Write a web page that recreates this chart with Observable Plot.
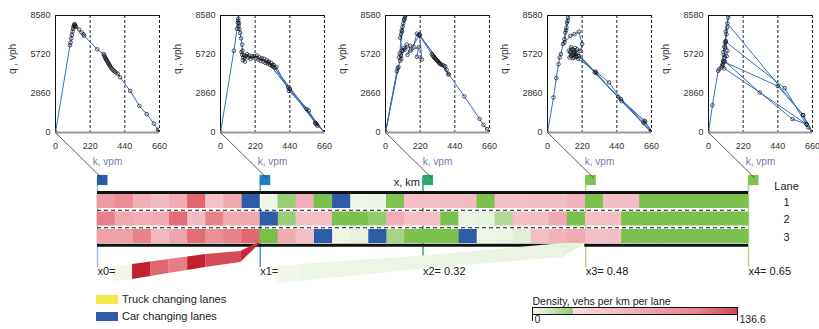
<!DOCTYPE html>
<html><head><meta charset="utf-8">
<script src="https://cdn.jsdelivr.net/npm/d3@7"></script>
<script src="https://cdn.jsdelivr.net/npm/@observablehq/plot@0.6"></script>
<style>
body{margin:0;background:#fff;font-family:"Liberation Sans",Arial,sans-serif;}
#root{position:relative;width:819px;height:329px;overflow:hidden;background:#fff;}
.sw{position:absolute;width:22px;height:9px;}
.lt{position:absolute;font-size:11px;color:#222;white-space:nowrap;line-height:12px;}
</style></head><body><div id="root"></div>
<script>
// ---------- DATA ----------
// Fundamental-diagram samples (k vpm, q vph) at each detector x0..x4
const fd0 = [[0,0],[92,6400],[96,6600],[100,6900],[104,7150],[108,7400],[112,7600],[115,7750],[118,7850],[120,7950],[123,7900],[126,7820],[130,7750],[150,7550],[165,7350],[178,7200],[182,7100],[265,6100],[305,5750],[309,5650],[313,5550],[317,5450],[321,5380],[325,5300],[329,5220],[333,5130],[337,5050],[341,4980],[345,4900],[350,4800],[356,4700],[362,4620],[368,4550],[375,4480],[385,4400],[395,4300],[410,4050],[474,3050],[532,1950],[579,1350],[624,650],[650,200],[655,120],[658,60],[660,0]];
const fd1 = [[0,0],[85,6000],[105,7600],[110,8050],[113,8350],[116,8700],[112,8200],[118,8000],[114,7800],[120,7600],[125,7300],[130,6900],[137,6450],[140,6000],[133,5900],[138,5700],[145,5500],[150,5650],[142,5300],[155,5200],[160,5600],[168,5750],[175,5500],[182,5650],[190,5400],[198,5600],[205,5500],[215,5600],[225,5450],[232,5650],[240,5350],[248,5500],[255,5250],[262,5450],[270,5200],[278,5400],[285,5100],[292,5300],[300,5050],[308,5200],[315,4950],[322,5100],[330,4850],[338,4950],[345,4750],[355,4800],[434,3050],[546,1720],[600,700],[615,500],[660,0],[330,4950],[440,3200],[560,1600],[610,600],[660,0],[300,5150],[430,3300],[605,650],[660,0]];
const fd2 = [[0,0],[72,4500],[82,4800],[0,0],[78,4700],[93,5250],[85,5500],[97,5650],[104,6000],[93,6950],[98,7200],[103,7500],[108,7750],[113,8000],[118,8250],[123,8450],[128,8600],[132,8800],[120,8300],[105,7400],[90,5800],[100,5400],[118,6200],[110,6000],[135,6450],[125,6100],[157,6350],[140,5700],[178,6300],[199,7250],[216,7200],[160,6000],[210,6250],[199,5550],[231,5350],[216,7100],[294,5750],[300,5650],[305,5550],[310,5500],[315,5450],[320,5380],[325,5300],[330,5250],[335,5200],[340,5100],[345,5050],[350,5000],[360,4950],[370,4900],[379,4850],[388,4600],[400,4250],[216,7150],[400,4300],[500,2650],[597,1000],[622,560],[645,250],[660,0]];
const fd3 = [[0,0],[38,2570],[56,3990],[70,5010],[77,5500],[85,5750],[98,6480],[107,6850],[113,7330],[120,7700],[124,8050],[130,8430],[137,8700],[128,8200],[118,7500],[108,6600],[145,7090],[171,7210],[199,7390],[220,6480],[209,5990],[188,6100],[180,5600],[175,6200],[170,5500],[165,6050],[160,5450],[155,6100],[150,5600],[145,5900],[140,5500],[135,6000],[150,6250],[160,5700],[170,5850],[180,5750],[185,5550],[195,5400],[305,4470],[391,3670],[466,2450],[615,860],[660,120],[660,0],[200,5600],[300,4400],[450,2600],[610,700],[660,0],[190,5800],[310,4350],[470,2300],[620,800],[655,100]];
const fd4 = [[0,0],[25,2000],[61,4520],[68,4640],[82,4760],[90,5000],[93,5250],[85,4900],[97,5700],[100,5500],[104,6230],[95,5900],[110,6720],[100,6300],[114,7210],[105,6600],[118,7700],[110,7400],[125,8430],[129,8650],[120,8000],[601,1280],[622,600],[660,0],[632,370],[484,3250],[110,6650],[120,6000],[115,5600],[105,5200],[326,2930],[533,980],[622,610],[100,4700],[95,5200],[440,3400],[601,1270],[660,30]];
const fdPanels = [fd0, fd1, fd2, fd3, fd4];
const kTicks = [0, 220, 440, 660];
const qTicks = [0, 2860, 5720, 8580];
const connector = [[0,0],[290,-3300]];

// Lane density per cell (vehs/km/lane), 36 cells over 0.65 km; null = car changing lanes
const lane1 = [70,80,55,45,58,110,40,60,null,1,20,55,26,null,1,2,25,42,42,43,45,26,42,42,43,44,50,26,43,43,26,26,26,26,26,26];
const lane2 = [90,60,55,58,105,45,88,58,60,null,20,42,42,26,26,21,55,42,42,26,2,3,14,42,44,60,26,42,43,26,26,26,26,26,26,26];
const lane3 = [65,65,88,48,63,105,78,88,110,27,58,42,null,1.5,3,null,17,26,26,26,null,1.5,2,4,42,52,58,42,43,26,26,26,26,26,26,26];
const carChange = [[1,8],[1,13],[2,9],[3,12],[3,15],[3,20]];
const roadLength = 0.65;
const nCells = 36;
const laneNames = ["1","2","3"];

// Detector flags
const flagKm = [0, 0.1625, 0.325, 0.4875, 0.65];
const flagLabels = ["x0=", "x1=", "x2= 0.32", "x3= 0.48", "x4= 0.65"];
const flagColors = ["#2f5ca8", "#1f7fbf", "#2fa86e", "#7cc24f", "#7cc24f"];
const flagLineColors = ["#a3bce0", "#4f95cf", "#2fa86e", "#a8d790", "#a8d790"];

// Callout ribbons (km, top/bottom in lane units) and their cell densities
const redRibbon = [[0.016,4.71,5.57],[0.035,4.6,5.46],[0.053,4.46,5.29],[0.071,4.31,5.11],[0.090,4.17,4.94],[0.108,4.03,4.77],[0.143,3.86,4.49],[0.1615,3.34,3.46]];
const redRibbonDensity = [0.5,136,110,92,136,120,132];
const greenRibbon = [[0.1795,4.71,5.69],[0.2024,4.6,5.57],[0.332,4.09,4.83],[0.4646,3.4,4.2],[0.4865,3.4,3.46]];
const greenRibbonDensity = [0.6,1.5,2,3];

const densityMax = 136.6;
const densityTicks = [0, 136.6];

// ---------- DRAW ----------
const root = document.getElementById("root");
const font = '"Liberation Sans", Arial, sans-serif';
const colorScale = {type: "linear", domain: [0, 27, 27.01, 110, densityMax], range: ["#f4f8ee", "#76bf48", "#f8d3da", "#e26670", "#c01f2e"]};
function place(el, left, top) {
  el.style.position = "absolute"; el.style.left = left + "px"; el.style.top = top + "px";
  root.appendChild(el);
}

// Strip plot (drawn first, underneath)
const cw = roadLength / nCells;
const cells = [];
[lane1, lane2, lane3].forEach((arr, li) => arr.forEach((v, i) => { if (v !== null) cells.push({lane: li + 1, i, v}); }));
const cars = carChange.map(([lane, i]) => ({lane, i}));
function ribbonData(pts, dens) {
  const out = [];
  dens.forEach((d, i) => {
    out.push({z: i, x: pts[i][0], t: pts[i][1], b: pts[i][2], d});
    out.push({z: i, x: pts[i+1][0], t: pts[i+1][1], b: pts[i+1][2], d});
  });
  return out;
}
const flags = flagKm.map((x, i) => ({x, label: flagLabels[i], c: flagColors[i], lc: flagLineColors[i]}));
const sqW = 0.0105;

const strip = Plot.plot({
  width: 819, height: 169,
  marginLeft: 97, marginRight: 71, marginTop: 0, marginBottom: 0,
  x: {domain: [0, roadLength], axis: null},
  y: {domain: [-1.343, 8.314], range: [0, 169], axis: null},
  color: colorScale,
  style: {background: "transparent", overflow: "visible", fontFamily: font, fontSize: "11px", color: "#222"},
  marks: [
    Plot.ruleX(flags, {x: "x", y1: -0.37, y2: 4.77, stroke: "lc", strokeWidth: 1.5}),
    Plot.rect(flags, {x1: "x", x2: d => d.x + sqW, y1: -0.49, y2: 0.09, fill: "c"}),
    Plot.rect(cells, {x1: d => d.i * cw, x2: d => (d.i + 1) * cw, y1: d => d.lane - 0.4, y2: d => d.lane + 0.4, fill: "v", insetLeft: -0.3, insetRight: -0.3}),
    Plot.rect(cars, {x1: d => d.i * cw, x2: d => (d.i + 1) * cw, y1: d => d.lane - 0.4, y2: d => d.lane + 0.4, fill: "#2f5ca8"}),
    Plot.ruleY([1.5, 2.5], {x1: 0, x2: roadLength, stroke: "#111", strokeDasharray: "4,3", strokeWidth: 1}),
    Plot.ruleY([0.49], {x1: 0, x2: roadLength, stroke: "#111", strokeWidth: 3}),
    Plot.ruleY([{y: 3.5, a: 0, b: 0.4646}, {y: 3.5, a: 0.4865, b: roadLength}], {y: "y", x1: "a", x2: "b", stroke: "#111", strokeWidth: 3}),
    Plot.areaY(ribbonData(greenRibbon, greenRibbonDensity), {x: "x", y1: "t", y2: "b", z: "z", fill: "d"}),
    Plot.areaY(ribbonData(redRibbon, redRibbonDensity), {x: "x", y1: "t", y2: "b", z: "z", fill: "d"}),
    Plot.text(flags, {x: "x", y: 5.0, text: "label", textAnchor: "start", fill: "#222"}),
    Plot.text(["x, km"], {x: flagKm[2], y: -0.09, dx: -3, textAnchor: "end", fill: "#222"}),
    Plot.text(["Lane", ...laneNames], {x: 0.688, y: (d, i) => i === 0 ? 0.14 : i + 0.03, fill: "#222"})
  ]
});
place(strip, 0, 160);

// Scatter panels
const plotLefts = [55, 220, 385, 547, 708];
fdPanels.forEach((data, p) => {
  const pts = data.map(([k, q]) => ({k, q}));
  const pl = Plot.plot({
    width: 165, height: 180,
    marginLeft: 55, marginRight: 6, marginTop: 15, marginBottom: 48,
    x: {domain: [0, 660], ticks: kTicks, tickSize: 0, tickPadding: 10, label: null, tickFormat: d => String(d)},
    y: {domain: [0, 8580], ticks: qTicks, tickSize: 0, tickPadding: 5, label: null, tickFormat: d => String(d)},
    style: {background: "transparent", overflow: "visible", fontFamily: font, fontSize: "9px", color: "#333"},
    marks: [
      Plot.ruleX([220, 440, 660], {stroke: "#222", strokeDasharray: "3,2", strokeWidth: 1}),
      Plot.ruleY([8580], {stroke: "#111", strokeWidth: 1}),
      Plot.ruleX([0], {stroke: "#111", strokeWidth: 1}),
      Plot.line(pts, {x: "k", y: "q", stroke: "#3f6db8", strokeWidth: 1, clip: true}),
      Plot.dot(pts, {x: "k", y: "q", r: 1.8, stroke: "#111", strokeWidth: 0.7, fill: "none", clip: true}),
      Plot.ruleY([0], {stroke: "#999", strokeWidth: 2}),
      Plot.line(connector, {stroke: "#333", strokeWidth: 0.8}),
      Plot.text(["q , vph"], {frameAnchor: "left", dx: -43, rotate: -90, fontSize: 10, fill: "#333"}),
      Plot.text(["k, vpm"], {frameAnchor: "bottom", dy: 32, fontSize: 10, fill: "#7c78ae"})
    ]
  });
  place(pl, plotLefts[p] - 55, 0);
});

// Lane-change legend
const sw1 = document.createElement("div"); sw1.className = "sw"; sw1.style.background = "#f5ea4a"; sw1.style.left = "96px"; sw1.style.top = "295px"; root.appendChild(sw1);
const sw2 = document.createElement("div"); sw2.className = "sw"; sw2.style.background = "#2f5ca8"; sw2.style.left = "96px"; sw2.style.top = "312px"; root.appendChild(sw2);
const t1 = document.createElement("div"); t1.className = "lt"; t1.textContent = "Truck changing lanes"; t1.style.left = "122px"; t1.style.top = "293px"; root.appendChild(t1);
const t2 = document.createElement("div"); t2.className = "lt"; t2.textContent = "Car changing lanes"; t2.style.left = "122px"; t2.style.top = "310px"; root.appendChild(t2);

// Density legend
const ramp = d3.range(0, densityMax, 0.4);
const leg = Plot.plot({
  width: 270, height: 39,
  marginLeft: 12, marginRight: 53, marginTop: 17, marginBottom: 15,
  x: {domain: [0, densityMax], ticks: densityTicks, tickSize: 7, tickFormat: () => "", label: null},
  color: colorScale,
  style: {background: "transparent", overflow: "visible", fontFamily: font, fontSize: "10.5px", color: "#222"},
  marks: [
    Plot.rect(ramp, {x1: d => d, x2: d => Math.min(d + 0.45, densityMax), fill: d => d}),
    Plot.frame({stroke: "#111", strokeWidth: 1}),
    Plot.text(densityTicks, {x: d => d, frameAnchor: "bottom", dy: 8, dx: 2, textAnchor: "start", text: d => String(d), fill: "#222"}),
    Plot.text(["Density, vehs per km per lane"], {frameAnchor: "top-left", dy: -10, textAnchor: "start", fill: "#222"})
  ]
});
place(leg, 520, 290);
</script>
</body></html>
